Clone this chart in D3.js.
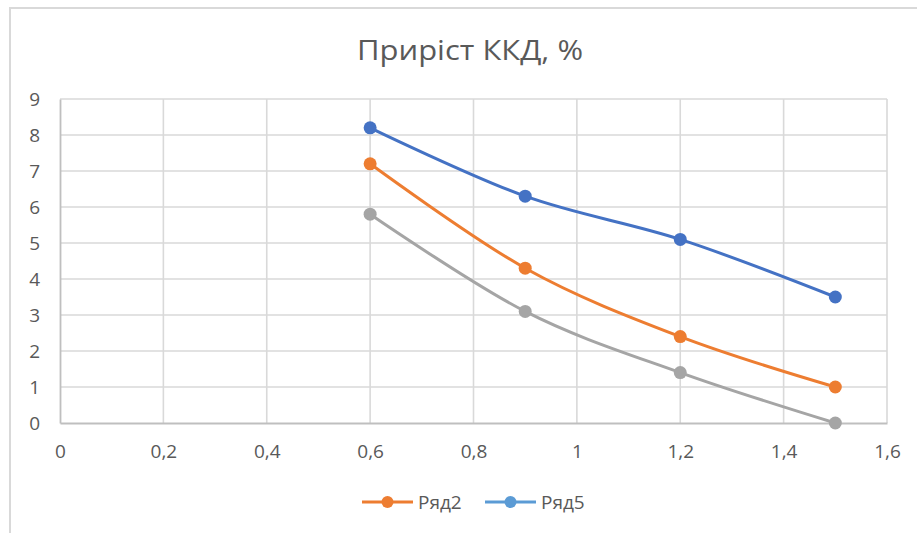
<!DOCTYPE html>
<html>
<head>
<meta charset="utf-8">
<script src="https://cdn.jsdelivr.net/npm/d3@7/dist/d3.min.js"></script>
<style>
  html, body { margin: 0; padding: 0; background: #fff; }
  svg { display: block; font-family: "Open Sans", "Noto Sans", sans-serif; }
</style>
</head>
<body>
<svg id="chart" width="917" height="533"></svg>
<script>
// Efficiency gain (%) versus parameter value
const xValues = [0.6, 0.9, 1.2, 1.5];
const seriesTop = [8.2, 6.3, 5.1, 3.5];    // blue line
const seriesRyad2 = [7.2, 4.3, 2.4, 1.0];  // orange line
const seriesLow = [5.8, 3.1, 1.4, 0.0];    // grey line
const xTicks = [0, 0.2, 0.4, 0.6, 0.8, 1, 1.2, 1.4, 1.6];
const yTicks = [0, 1, 2, 3, 4, 5, 6, 7, 8, 9];
const legendItems = [
  { name: "Ряд2", color: "#ED7D31" },
  { name: "Ряд5", color: "#5B9BD5" }
];
const titleText = "Приріст ККД, %";

const series = [
  { values: seriesLow, color: "#A5A5A5" },
  { values: seriesRyad2, color: "#ED7D31" },
  { values: seriesTop, color: "#4472C4" }
];

const svg = d3.select("#chart");
const W = 917, H = 533;
const plot = { left: 60, right: 887, top: 99, bottom: 423 };

const x = d3.scaleLinear().domain([0, 1.6]).range([plot.left, plot.right]);
const y = d3.scaleLinear().domain([0, 9]).range([plot.bottom, plot.top]);
const fmt = v => String(v).replace(".", ",");

// chart area frame
svg.append("rect")
  .attr("x", 10).attr("y", 8)
  .attr("width", W + 20).attr("height", H + 20)
  .attr("fill", "#fff")
  .attr("stroke", "#D9D9D9").attr("stroke-width", 2);

// title
svg.append("text")
  .attr("x", 470).attr("y", 60)
  .attr("text-anchor", "middle")
  .attr("font-size", 27)
  .attr("fill", "#595959")
  .attr("textLength", 226)
  .attr("lengthAdjust", "spacingAndGlyphs")
  .text(titleText);

// gridlines
const grid = svg.append("g");
grid.selectAll(".hg").data(yTicks.slice(1)).join("line")
  .attr("x1", plot.left).attr("x2", plot.right)
  .attr("y1", d => y(d)).attr("y2", d => y(d))
  .attr("stroke", "#D9D9D9").attr("stroke-width", 1.6);
grid.selectAll(".vg").data(xTicks.slice(1)).join("line")
  .attr("x1", d => x(d)).attr("x2", d => x(d))
  .attr("y1", plot.top).attr("y2", plot.bottom)
  .attr("stroke", "#D9D9D9").attr("stroke-width", 1.6);

// axes
const yAxis = d3.axisLeft(y).tickValues(yTicks).tickSize(0).tickPadding(20).tickFormat(fmt);
const xAxis = d3.axisBottom(x).tickValues(xTicks).tickSize(0).tickPadding(22).tickFormat(fmt);

const gy = svg.append("g").attr("transform", `translate(${plot.left},0)`).call(yAxis);
const gx = svg.append("g").attr("transform", `translate(0,${plot.bottom})`).call(xAxis);
[gx, gy].forEach(g => {
  g.select(".domain").attr("stroke", "#BFBFBF").attr("stroke-width", 1.8);
  g.selectAll("text").attr("fill", "#595959").attr("font-size", 19)
    .attr("font-family", "'Open Sans', 'Noto Sans', sans-serif");
});
gy.selectAll("text").attr("dy", "0.36em");

// lines and markers
const line = d3.line()
  .x((d, i) => x(xValues[i]))
  .y(d => y(d))
  .curve(d3.curveCardinal.tension(0));

series.forEach(s => {
  svg.append("path")
    .datum(s.values)
    .attr("d", line)
    .attr("fill", "none")
    .attr("stroke", s.color)
    .attr("stroke-width", 3)
    .attr("stroke-linecap", "round");
  svg.append("g").selectAll("circle").data(s.values).join("circle")
    .attr("cx", (d, i) => x(xValues[i]))
    .attr("cy", d => y(d))
    .attr("r", 6.5)
    .attr("fill", s.color);
});

// legend
const legend = svg.append("g").attr("transform", "translate(0,502)");
const legendX = [362, 485];
legendItems.forEach((item, i) => {
  const g = legend.append("g").attr("transform", `translate(${legendX[i]},0)`);
  g.append("line").attr("x1", 0).attr("x2", 51).attr("y1", 0).attr("y2", 0)
    .attr("stroke", item.color).attr("stroke-width", 3);
  g.append("circle").attr("cx", 25.5).attr("cy", 0).attr("r", 6).attr("fill", item.color);
  g.append("text").attr("x", 56).attr("y", 0).attr("dy", "0.36em")
    .attr("font-size", 19).attr("fill", "#595959")
    .text(item.name);
});
</script>
</body>
</html>
